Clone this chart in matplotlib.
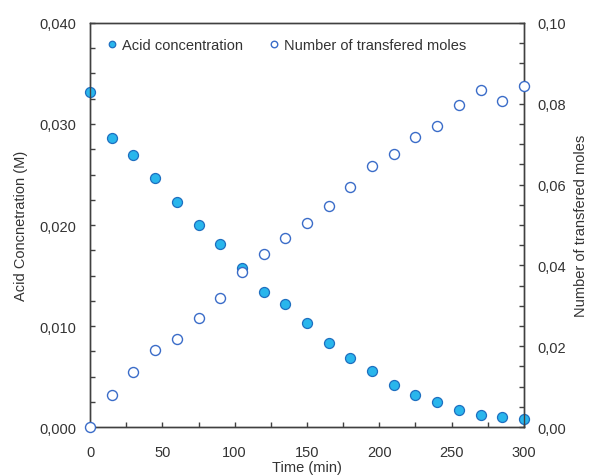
import numpy as np
import matplotlib.pyplot as plt
from matplotlib.ticker import MultipleLocator, FuncFormatter

time_min = [0, 15, 30, 45, 60, 75, 90, 105, 120, 135, 150,
            165, 180, 195, 210, 225, 240, 255, 270, 285, 300]
acid_conc = [0.0332, 0.0286, 0.0269, 0.02465, 0.0223, 0.0200, 0.0181, 0.0157,
             0.0134, 0.01215, 0.0103, 0.00835, 0.00683, 0.00554, 0.00416,
             0.00317, 0.00244, 0.00165, 0.00122, 0.00099, 0.00076]
moles = [0.0, 0.0079, 0.0135, 0.0190, 0.0219, 0.0271, 0.0319, 0.0384, 0.0428,
         0.0468, 0.0506, 0.0546, 0.0595, 0.0647, 0.0676, 0.0719, 0.0746,
         0.0797, 0.0835, 0.0806, 0.0843]

plt.rcParams['font.family'] = ['Liberation Sans', 'DejaVu Sans']
text_col = '#333333'
spine_col = '#404040'
fs = 10.5

fig = plt.figure(figsize=(5.91, 4.77), dpi=100)
ax = fig.add_axes([0.1523, 0.1027, 0.7343, 0.8470])
ax2 = ax.twinx()

h1, = ax.plot(time_min, acid_conc, 'o', ms=7.2, mfc='#29B6EC', mec='#1E6FC0',
              mew=0.9, clip_on=False, zorder=3, label='Acid concentration')
h2, = ax2.plot(time_min, moles, 'o', ms=7.2, mfc='white', mec='#3A6CC8',
               mew=1.0, clip_on=False, zorder=3, label='Number of transfered moles')

ax.set_xlim(0, 300)
ax.set_ylim(0, 0.040)
ax2.set_ylim(0, 0.10)

ax.xaxis.set_major_locator(MultipleLocator(50))
ax.xaxis.set_minor_locator(MultipleLocator(25))
ax.yaxis.set_major_locator(MultipleLocator(0.010))
ax.yaxis.set_minor_locator(MultipleLocator(0.0025))
ax2.yaxis.set_major_locator(MultipleLocator(0.02))
ax2.yaxis.set_minor_locator(MultipleLocator(0.005))

comma3 = FuncFormatter(lambda v, p: f'{v:.3f}'.replace('.', ','))
comma2 = FuncFormatter(lambda v, p: f'{v:.2f}'.replace('.', ','))
ax.yaxis.set_major_formatter(comma3)
ax2.yaxis.set_major_formatter(comma2)

for a in (ax, ax2):
    a.tick_params(which='both', direction='in', length=3.5, width=1,
                  color=spine_col, labelsize=fs, labelcolor=text_col, pad=10)
    for s in a.spines.values():
        s.set_color(spine_col)
        s.set_linewidth(1.0)
ax.tick_params(axis='x', pad=13)

ax.set_xlabel('Time (min)', fontsize=fs, color=text_col, labelpad=1)
ax.set_ylabel('Acid Concnetration (M)', fontsize=fs, color=text_col, labelpad=8)
ax2.set_ylabel('Number of transfered moles', fontsize=fs, color=text_col, labelpad=5)

leg = ax.legend(handles=[h1, h2], loc='upper left', ncol=2, frameon=False,
                fontsize=fs, markerscale=0.65, handlelength=1.0, handletextpad=0.2,
                columnspacing=1.6, bbox_to_anchor=(0.02, 0.978), borderaxespad=0)
for t in leg.get_texts():
    t.set_color(text_col)

fig.savefig('out.png', dpi=100)
